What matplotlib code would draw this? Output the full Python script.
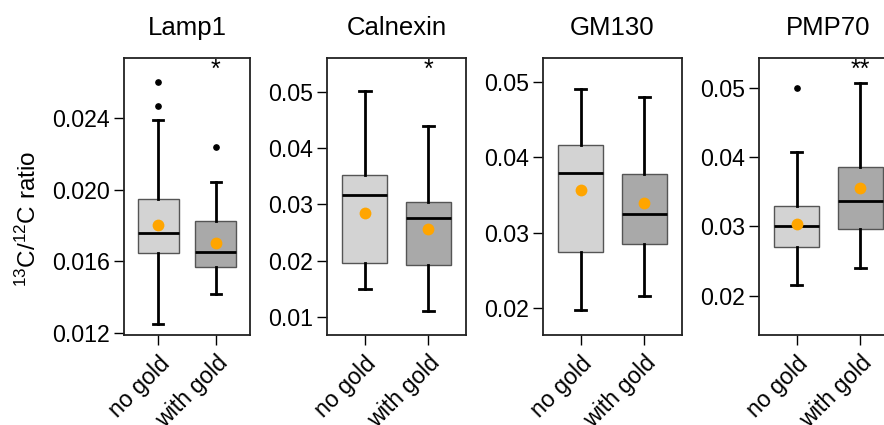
import numpy as np
import matplotlib
matplotlib.use('Agg')
import matplotlib.pyplot as plt
import matplotlib.transforms as mtransforms

plt.rcParams['font.family'] = ['Liberation Sans', 'DejaVu Sans']
plt.rcParams['mathtext.fontset'] = 'custom'
plt.rcParams['mathtext.rm'] = 'Liberation Sans'
plt.rcParams['mathtext.default'] = 'regular'

# data
panels = ['Lamp1', 'Calnexin', 'GM130', 'PMP70']
groups = ['no gold', 'with gold']
whislo = [[0.0125, 0.01418], [0.01503, 0.01106], [0.0197, 0.0216], [0.02155, 0.0240]]
q1 = [[0.01647, 0.01567], [0.01965, 0.01922], [0.02744, 0.02854], [0.02707, 0.02961]]
med = [[0.01758, 0.01654], [0.03172, 0.02764], [0.03796, 0.03248], [0.0300, 0.03361]]
q3 = [[0.01946, 0.01825], [0.03515, 0.0305], [0.04167, 0.03779], [0.03289, 0.03861]]
whishi = [[0.02391, 0.0204], [0.0502, 0.0439], [0.049, 0.048], [0.04072, 0.0508]]
means = [[0.01803, 0.0170], [0.02846, 0.02569], [0.03562, 0.0339], [0.0304, 0.03549]]
fliers = [[[0.02599, 0.02465], [0.02236]], [[], []], [[], []], [[0.050], []]]
signif = ['*', '*', '', '**']
ylims = [(0.01191, 0.02736), (0.00693, 0.05603), (0.01651, 0.05318), (0.01436, 0.05442)]
yticks = [[0.012, 0.016, 0.020, 0.024], [0.01, 0.02, 0.03, 0.04, 0.05],
          [0.02, 0.03, 0.04, 0.05], [0.02, 0.03, 0.04, 0.05]]
ytick_fmt = ['%.3f', '%.2f', '%.2f', '%.2f']

fills = ['#d3d3d3', '#a9a9a9']

# axes rectangles in pixels (left, width) -> figure fractions
W, H = 884, 425
lefts = [124, 327.3, 543.3, 759.3]
widths = [126, 138.7, 138.4, 138.4]
bottom = (H - 334.5) / H
height = (334.5 - 57.7) / H

fig = plt.figure(figsize=(W / 100, H / 100), dpi=100)
shift = mtransforms.ScaledTranslation(8 / 100, 1 / 100, fig.dpi_scale_trans)

for i in range(4):
    ax = fig.add_axes([lefts[i] / W, bottom, widths[i] / W, height])
    stats = []
    for j in range(2):
        stats.append(dict(med=med[i][j], q1=q1[i][j], q3=q3[i][j],
                          whislo=whislo[i][j], whishi=whishi[i][j],
                          fliers=fliers[i][j], mean=means[i][j], label=groups[j]))
    bp = ax.bxp(stats, positions=[1, 2], widths=0.71, patch_artist=True,
                showmeans=True, capwidths=0.18,
                boxprops=dict(edgecolor='#555555', linewidth=1.0),
                medianprops=dict(color='black', linewidth=2.0),
                whiskerprops=dict(color='black', linewidth=2.0),
                capprops=dict(color='black', linewidth=2.0),
                flierprops=dict(marker='o', markerfacecolor='black', markeredgecolor='black',
                                markersize=3.8),
                meanprops=dict(marker='o', markerfacecolor='#ffa500', markeredgecolor='none',
                               markersize=8.5))
    for patch, c in zip(bp['boxes'], fills):
        patch.set_facecolor(c)
        patch.set_zorder(2)

    ax.set_xlim(0.41, 2.59)
    ax.set_ylim(*ylims[i])
    ax.set_yticks(yticks[i])
    ax.set_yticklabels([ytick_fmt[i] % v for v in yticks[i]], fontsize=16.7)
    ax.set_xticks([1, 2])
    ax.tick_params(axis='x', length=7, width=1, pad=12)
    ax.tick_params(axis='y', length=7, width=1, pad=3)
    ax.set_xticklabels(groups, rotation=45, ha='right', va='center',
                       rotation_mode='anchor', fontsize=16.7)
    # nudge the slanted labels like R's text(srt=45) placement
    for lab in ax.get_xticklabels():
        lab.set_transform(lab.get_transform() + shift)
    for s in ax.spines.values():
        s.set_linewidth(1.3)
        s.set_color('#222222')
    ax.set_title(panels[i], fontsize=18.5, pad=16)
    if signif[i]:
        ax.text(2, 0.955, signif[i], transform=ax.get_xaxis_transform(),
                ha='center', va='center', fontsize=18)

fig.text(28 / W, (H - 219) / H, r'$^{13}$C/$^{12}$C ratio', rotation=90,
         ha='center', va='center', fontsize=17.5)

fig.savefig('out.png', dpi=100)
